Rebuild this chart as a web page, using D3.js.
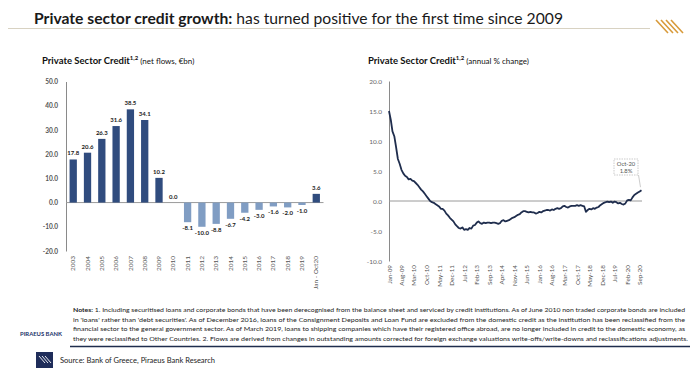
<!DOCTYPE html>
<html><head><meta charset="utf-8">
<script src="https://cdn.jsdelivr.net/npm/d3@7"></script>
<style>
html,body{margin:0;padding:0;background:#fff;}
svg{display:block;font-family:Lato,"Open Sans",sans-serif;}
</style></head>
<body>
<svg id="c" width="700" height="387"></svg>
<script>
// ---------- DATA ----------
const barCategories = ["2003","2004","2005","2006","2007","2008","2009","2010","2011","2012","2013","2014","2015","2016","2017","2018","2019","Jan - Oct20"];
const netFlows = [17.8,20.6,26.3,31.6,38.5,34.1,10.2,0.0,-8.1,-10.0,-8.8,-6.7,-4.2,-3.0,-1.6,-2.0,-1.0,3.6];
const leftTicks = [50,40,30,20,10,0,-10,-20];

// monthly annual % change, Jan-09 .. Oct-20
const annualChange = [
 15.0,13.5,11.6,10.8,9.0,7.0,6.2,5.2,4.6,4.2,4.0,3.6,
 3.7,3.4,3.3,3.0,2.7,2.3,1.9,1.6,1.2,0.8,0.4,0.0,
 -0.2,-0.3,-0.5,-0.7,-0.9,-1.3,-1.3,-1.6,-2.1,-2.4,-2.8,-3.1,
 -3.4,-3.9,-4.2,-4.5,-4.6,-4.4,-4.8,-4.7,-4.8,-4.5,-4.6,-4.1,
 -4.0,-3.6,-3.4,-3.7,-3.8,-3.6,-3.7,-3.6,-3.6,-3.7,-3.6,-3.6,
 -3.7,-3.8,-3.7,-3.3,-3.2,-3.4,-3.3,-3.2,-3.0,-2.8,-2.7,-2.5,
 -2.3,-2.2,-1.9,-1.7,-1.7,-1.8,-1.9,-1.8,-1.9,-1.9,-2.1,-2.0,
 -1.8,-1.9,-1.7,-1.6,-1.5,-1.5,-1.6,-1.4,-1.5,-1.3,-1.2,-1.3,
 -1.2,-0.9,-0.8,-1.0,-1.1,-0.9,-0.8,-0.8,-0.8,-0.7,-0.8,-0.7,
 -0.8,-0.9,-1.8,-1.5,-1.3,-1.4,-1.2,-1.3,-1.1,-1.0,-0.7,-0.5,
 -0.3,-0.2,-0.1,-0.2,-0.1,-0.3,-0.1,-0.2,-0.4,-0.3,-0.5,-0.6,
 -0.4,0.1,0.2,0.1,0.6,1.0,1.2,1.4,1.6,1.8
];
const rightTicks = [20,15,10,5,0,-5,-10];
const monthLabels = ["Jan-09","Aug-09","Mar-10","Oct-10","May-11","Dec-11","Jul-12","Feb-13","Sep-13","Apr-14","Nov-14","Jun-15","Jan-16","Aug-16","Mar-17","Oct-17","May-18","Dec-18","Jul-19","Feb-20","Sep-20"];
const labelStepMonths = 7;
const annotation = ["Oct-20","1.8%"];

const notesLines = [
 ["Notes:", " 1. Including securitised loans and corporate bonds that have been derecognised from the balance sheet and serviced by credit institutions. As of June 2010 non traded corporate bonds are included"],
 ["", "in 'loans' rather than 'debt securities'. As of December 2016, loans of the Consignment Deposits and Loan Fund are excluded from the domestic credit as the institution has been reclassified  from the"],
 ["", "financial sector to the general government sector. As of March 2019, loans to shipping companies which have their registered office abroad, are no longer included in credit to the domestic economy, as"],
 ["", "they were reclassified to Other Countries. 2. Flows are derived from changes in outstanding amounts corrected for foreign exchange valuations write-offs/write-downs and reclassifications adjustments."]
];

// ---------- DRAW ----------
const svg = d3.select("#c");
const fmt = v => v.toFixed(1);

// Title
const title = svg.append("text").attr("x",34).attr("y",24)
  .attr("font-size",16).attr("fill","#1a1a1a")
  .attr("textLength",529).attr("lengthAdjust","spacingAndGlyphs");
title.append("tspan").attr("font-weight","bold").text("Private sector credit growth:");
title.append("tspan").text(" has turned positive for the first time since 2009");
svg.append("line").attr("x1",8).attr("x2",650).attr("y1",28.5).attr("y2",28.5)
  .attr("stroke","#d8d2c2").attr("stroke-width",1);
// top-right logo stripes
[0,1,2,3].forEach(i=>{
  svg.append("line").attr("x1",656+i*5).attr("y1",20).attr("x2",668+i*5).attr("y2",33)
    .attr("stroke","#d89a3a").attr("stroke-width",1.6);
});

// subtitles
function subtitle(x, main, rest){
  const t = svg.append("text").attr("x",x).attr("y",64).attr("fill","#111");
  t.append("tspan").attr("font-weight","bold").attr("font-size",9.5).text(main);
  t.append("tspan").attr("font-weight","bold").attr("font-size",6).attr("dy",-4).text("1,2");
  t.append("tspan").attr("font-size",8).attr("dy",4).text(" "+rest);
}
subtitle(42,"Private Sector Credit","(net flows, €bn)");
subtitle(368,"Private Sector Credit","(annual % change)");

// ---- Left bar chart ----
const xL = d3.scaleBand().domain(barCategories).range([66,323.5]).paddingInner(0.49).paddingOuter(0.25);
const yL = d3.scaleLinear().domain([-20,50]).range([251,81.5]);
const gL = svg.append("g");

const yAxisL = d3.axisLeft(yL).tickValues(leftTicks).tickSize(0).tickPadding(8).tickFormat(fmt);
gL.append("g").attr("transform","translate(66,0)").call(yAxisL)
  .call(g=>g.select(".domain").attr("stroke","#8a8a8a"))
  .call(g=>g.selectAll("text").attr("font-size",6.5).attr("font-weight","bold").attr("fill","#555").attr("font-family","Lato,sans-serif"));

gL.append("line").attr("x1",66).attr("x2",323.5).attr("y1",yL(0)).attr("y2",yL(0)).attr("stroke","#9a9a9a").attr("stroke-width",1);

gL.selectAll("rect.bar").data(netFlows).join("rect").attr("class","bar")
  .attr("x",(d,i)=>xL(barCategories[i]))
  .attr("width",xL.bandwidth())
  .attr("y",d=>yL(Math.max(0,d)))
  .attr("height",d=>Math.abs(yL(d)-yL(0)))
  .attr("fill",d=>d<0?"#809dc3":"#304c7e");

gL.selectAll("text.vl").data(netFlows).join("text").attr("class","vl")
  .attr("x",(d,i)=>xL(barCategories[i])+xL.bandwidth()/2)
  .attr("y",d=>d<0?yL(d)+8:yL(d)-4)
  .attr("text-anchor","middle").attr("font-size",6).attr("font-weight","bold").attr("fill","#1a1a1a")
  .text(d=>fmt(d));

const xAxisL = d3.axisBottom(xL).tickSize(0).tickPadding(0);
gL.append("g").attr("transform","translate(0,254)").call(xAxisL)
  .call(g=>g.select(".domain").remove())
  .call(g=>g.selectAll("text").attr("font-size",6.5).attr("fill","#555").attr("font-family","Lato,sans-serif")
     .attr("text-anchor","end").attr("transform","rotate(-90)").attr("dx",0).attr("dy","0.32em").attr("x",-2).attr("y",0));

// ---- Right line chart ----
const dates = annualChange.map((d,i)=>new Date(2009,i,1));
const xR = d3.scaleTime().domain([dates[0],dates[dates.length-1]]).range([389,641.5]);
const yR = d3.scaleLinear().domain([-10,20]).range([261,81]);
const gR = svg.append("g");

const yAxisR = d3.axisLeft(yR).tickValues(rightTicks).tickSize(0).tickPadding(7).tickFormat(fmt);
gR.append("g").attr("transform","translate(389,0)").call(yAxisR)
  .call(g=>g.select(".domain").attr("stroke","#8a8a8a"))
  .call(g=>g.selectAll("text").attr("font-size",6.5).attr("fill","#666").attr("font-family","Lato,sans-serif"));

gR.append("line").attr("x1",389).attr("x2",642).attr("y1",yR(0)).attr("y2",yR(0)).attr("stroke","#9a9a9a").attr("stroke-width",1);

const tickDates = monthLabels.map((l,k)=>new Date(2009,k*labelStepMonths,1));
const xAxisR = d3.axisBottom(xR).tickValues(tickDates).tickSize(0).tickPadding(0)
  .tickFormat((d,i)=>monthLabels[i]);
gR.append("g").attr("transform","translate(0,264)").call(xAxisR)
  .call(g=>g.select(".domain").remove())
  .call(g=>g.selectAll("text").attr("font-size",6.3).attr("fill","#555").attr("font-family","Lato,sans-serif")
     .attr("text-anchor","end").attr("transform","rotate(-90)").attr("dx",0).attr("dy","0.32em").attr("x",-1).attr("y",0));

const line = d3.line().x((d,i)=>xR(dates[i])).y(d=>yR(d)).curve(d3.curveLinear);
gR.append("path").datum(annualChange).attr("d",line)
  .attr("fill","none").attr("stroke","#1f2d4d").attr("stroke-width",1.8).attr("stroke-linejoin","round");

// annotation
const lastX = xR(dates[dates.length-1]), lastY = yR(annualChange[annualChange.length-1]);
gR.append("line").attr("x1",lastX-3).attr("y1",175).attr("x2",lastX-1).attr("y2",lastY-3)
  .attr("stroke","#aaa").attr("stroke-width",0.6);
gR.append("rect").attr("x",614).attr("y",159).attr("width",24).attr("height",16)
  .attr("fill","#fff").attr("stroke","#aaa").attr("stroke-width",0.6).attr("stroke-dasharray","1.5,1");
gR.append("text").attr("x",626).attr("y",166).attr("text-anchor","middle").attr("font-size",5.8).attr("fill","#555").text(annotation[0]);
gR.append("text").attr("x",626).attr("y",173).attr("text-anchor","middle").attr("font-size",5.8).attr("fill","#555").text(annotation[1]);

// ---- Notes ----
const lineY = [312,321.5,331,340.5];
notesLines.forEach((ln,i)=>{
  const t = svg.append("text").attr("x",73).attr("y",lineY[i]).attr("font-size",6.2).attr("fill","#222")
    .attr("textLength", i===3?615:612).attr("lengthAdjust","spacingAndGlyphs");
  if(ln[0]) t.append("tspan").attr("font-weight","bold").text(ln[0]);
  t.append("tspan").text(ln[1]);
});
svg.append("text").attr("x",20).attr("y",336).attr("font-size",6.3).attr("font-weight","bold").attr("fill","#23346b")
  .attr("textLength",42).attr("lengthAdjust","spacingAndGlyphs").text("PIRAEUS BANK");
svg.append("line").attr("x1",70).attr("x2",690).attr("y1",346.5).attr("y2",346.5).attr("stroke","#1f2d4d").attr("stroke-width",1.3);
// bottom logo
svg.append("rect").attr("x",36).attr("y",352).attr("width",17).attr("height",16).attr("fill","#1f2d5a");
[0,1,2].forEach(i=>{
  svg.append("line").attr("x1",39+i*3).attr("y1",356).attr("x2",45+i*3).attr("y2",363)
    .attr("stroke","#fff").attr("stroke-width",0.9);
});
svg.append("text").attr("x",60).attr("y",363).attr("font-size",7.5).attr("fill","#222")
  .attr("textLength",155).attr("lengthAdjust","spacingAndGlyphs").text("Source: Bank of Greece, Piraeus Bank Research");
</script>
</body></html>
